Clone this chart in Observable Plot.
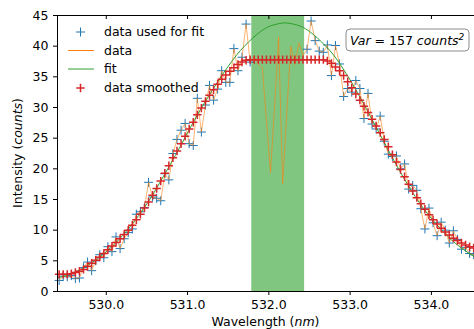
<!DOCTYPE html>
<html><head><meta charset="utf-8">
<script src="https://cdn.jsdelivr.net/npm/d3@7"></script>
<script src="https://cdn.jsdelivr.net/npm/@observablehq/plot@0.6"></script>
<style>
html,body{margin:0;padding:0;background:#fff;}
svg{display:block}
</style></head><body><div id="chart"></div>
<script>
const wavelength = [
529.42, 529.47, 529.52, 529.57, 529.62, 529.67, 529.72, 529.77, 529.82, 529.87,
529.92, 529.97, 530.02, 530.07, 530.12, 530.17, 530.22, 530.27, 530.32, 530.37,
530.42, 530.47, 530.52, 530.57, 530.62, 530.67, 530.72, 530.77, 530.82, 530.87,
530.92, 530.97, 531.02, 531.07, 531.12, 531.17, 531.22, 531.27, 531.32, 531.37,
531.42, 531.47, 531.52, 531.57, 531.62, 531.67, 531.72, 531.77, 531.82, 531.87,
531.92, 531.97, 532.02, 532.07, 532.12, 532.17, 532.22, 532.27, 532.32, 532.37,
532.42, 532.47, 532.52, 532.57, 532.62, 532.67, 532.72, 532.77, 532.82, 532.87,
532.92, 532.97, 533.02, 533.07, 533.12, 533.17, 533.22, 533.27, 533.32, 533.37,
533.42, 533.47, 533.52, 533.57, 533.62, 533.67, 533.72, 533.77, 533.82, 533.87,
533.92, 533.97, 534.02, 534.07, 534.12, 534.17, 534.22, 534.27, 534.32, 534.37,
534.42, 534.47, 534.52];
const intensity = [
1.8, 2.5, 2.4, 2.6, 2.1, 2.2, 3.9, 4.8, 3.4, 5.0,
6.0, 5.5, 7.3, 6.5, 8.9, 7.0, 8.6, 9.6, 10.2, 12.6,
13.0, 13.7, 17.8, 15.4, 15.2, 14.8, 19.2, 18.2, 22.5, 24.8,
26.3, 27.4, 24.1, 23.8, 31.5, 26.0, 30.4, 33.6, 31.2, 33.0,
36.0, 34.1, 34.1, 39.6, 36.0, 38.2, 43.6, 37.4, 38.3, 37.0,
36.5, 28.0, 19.4, 30.0, 41.5, 17.6, 29.0, 40.0, 37.0, 40.5,
38.5, 39.5, 44.1, 40.9, 39.2, 39.0, 40.2, 35.2, 40.1, 37.1,
31.8, 33.1, 32.5, 34.4, 33.1, 28.2, 32.3, 27.3, 26.5, 28.6,
24.5, 22.4, 22.0, 22.1, 20.0, 20.8, 16.7, 17.3, 16.5, 13.5,
10.2, 13.6, 11.2, 9.1, 11.3, 10.0, 7.9, 9.9, 8.5, 6.9,
7.2, 6.2, 6.0];
const smoothed = [
2.8, 2.8, 2.8, 2.9, 3.1, 3.3, 3.6, 4.1, 4.6, 5.1,
5.6, 6.2, 6.8, 7.4, 8.0, 8.6, 9.3, 10.0, 10.8, 11.7,
12.6, 13.6, 14.6, 15.7, 16.8, 18.0, 19.3, 20.5, 21.8, 22.9,
24.1, 25.3, 26.5, 27.6, 28.8, 29.9, 31.0, 32.0, 32.9, 33.8,
34.6, 35.3, 35.9, 36.5, 37.0, 37.4, 37.7, 37.8, 37.8, 37.8,
37.8, 37.8, 37.8, 37.8, 37.8, 37.8, 37.8, 37.8, 37.8, 37.8,
37.8, 37.8, 37.8, 37.8, 37.8, 37.8, 37.6, 37.2, 36.6, 36.0,
35.2, 34.2, 33.2, 32.2, 31.2, 30.2, 29.2, 28.1, 27.0, 25.9,
24.8, 23.6, 22.3, 21.1, 19.9, 18.7, 17.5, 16.4, 15.3, 14.3,
13.4, 12.5, 11.7, 11.0, 10.3, 9.7, 9.2, 8.7, 8.3, 7.9,
7.6, 7.3, 7.1];
const fitWavelength = [
529.4, 529.5, 529.6, 529.7, 529.8, 529.9, 530.0, 530.1, 530.2, 530.3,
530.4, 530.5, 530.6, 530.7, 530.8, 530.9, 531.0, 531.1, 531.2, 531.3,
531.4, 531.5, 531.6, 531.7, 531.8, 531.9, 532.0, 532.1, 532.2, 532.3,
532.4, 532.5, 532.6, 532.7, 532.8, 532.9, 533.0, 533.1, 533.2, 533.3,
533.4, 533.5, 533.6, 533.7, 533.8, 533.9, 534.0, 534.1, 534.2, 534.3,
534.4, 534.5, 534.6];
const fitIntensity = [
2.2, 2.6, 3.1, 3.7, 4.5, 5.4, 6.5, 7.7, 9.1, 10.7,
12.4, 14.3, 16.4, 18.7, 21.0, 23.4, 25.9, 28.3, 30.6, 32.7,
34.8, 36.7, 38.5, 40.0, 41.3, 42.4, 43.2, 43.6, 43.8, 43.6,
43.2, 42.4, 41.3, 40.0, 38.5, 36.6, 34.5, 32.2, 29.8, 27.3,
24.8, 22.3, 19.9, 17.6, 15.5, 13.6, 11.9, 10.4, 9.0, 7.8,
6.8, 5.9, 5.1];
const fitRange = [531.79, 532.44];
const xTicks = [530, 531, 532, 533, 534];
const yTicks = [0, 5, 10, 15, 20, 25, 30, 35, 40, 45];
const legendLabels = ["data used for fit", "data", "fit", "data smoothed"];

const rows = wavelength.map((w, i) => ({w, raw: intensity[i], smooth: smoothed[i]}));
const used = rows.filter(d => d.w < fitRange[0] || d.w > fitRange[1]);
const fitRows = fitWavelength.map((w, i) => ({w, y: fitIntensity[i]}));

const plusSymbol = {draw(ctx, size) {
  const r = Math.sqrt(size / Math.PI);
  ctx.moveTo(-r, 0); ctx.lineTo(r, 0);
  ctx.moveTo(0, -r); ctx.lineTo(0, r);
}};

const W = 474, H = 329, mL = 57, mT = 15, mB = 38, mR = 0;
const innerH = H - mT - mB;
const FONT = "DejaVu Sans";

const svg = Plot.plot({
  width: W, height: H,
  marginLeft: mL, marginRight: mR, marginTop: mT, marginBottom: mB,
  style: {fontFamily: FONT, fontSize: "12.5px", color: "#000", background: "#fff"},
  x: {domain: [529.40, 534.53]},
  y: {domain: [0, 45]},
  marks: [
    Plot.rect([fitRange], {x1: d => d[0], x2: d => d[1], fill: "#2ca02c", fillOpacity: 0.6}),
    Plot.dot(used, {x: "w", y: "raw", symbol: plusSymbol, r: 4.5, stroke: "#1f77b4", strokeWidth: 1, fill: "none"}),
    Plot.line(rows, {x: "w", y: "raw", stroke: "#ff7f0e", strokeWidth: 0.8, strokeOpacity: 0.75}),
    Plot.line(fitRows, {x: "w", y: "y", stroke: "#2ca02c", strokeWidth: 1, curve: "natural"}),
    Plot.dot(rows, {x: "w", y: "smooth", symbol: plusSymbol, r: 4.2, stroke: "#d62728", strokeWidth: 1.5, fill: "none"}),
    Plot.frame({anchor: "left", stroke: "#000"}),
    Plot.frame({anchor: "bottom", stroke: "#000"}),
    Plot.frame({anchor: "top", stroke: "#000"}),
    Plot.tickX(xTicks, {x: d => d, insetBottom: innerH - 4, stroke: "#000"}),
    Plot.axisX({ticks: xTicks, tickSize: 4, tickPadding: 5, label: null, tickFormat: d => d.toFixed(1)}),
    Plot.axisY({ticks: yTicks, tickSize: 4, tickPadding: 5, label: null, tickFormat: d => String(d)})
  ]
});
document.getElementById("chart").appendChild(svg);

const s = d3.select(svg);
// axis titles
const xl = s.append("text").attr("x", (mL + W - mR) / 2).attr("y", 325.5)
  .attr("text-anchor", "middle").attr("font-family", FONT).attr("font-size", "12.5px").attr("fill", "#000");
xl.append("tspan").text("Wavelength (");
xl.append("tspan").attr("font-style", "italic").text("nm");
xl.append("tspan").text(")");

const yl = s.append("text").attr("transform", `translate(22,${mT + innerH / 2}) rotate(-90)`)
  .attr("text-anchor", "middle").attr("font-family", FONT).attr("font-size", "12.5px").attr("fill", "#000");
yl.append("tspan").text("Intensity (");
yl.append("tspan").attr("font-style", "italic").text("counts");
yl.append("tspan").text(")");

// legend
const lg = s.append("g").attr("font-family", FONT).attr("font-size", "12.5px").attr("text-anchor", "start");
const rowY = [32, 50.5, 69, 88];
const mk = (g, x, y, r, color, w) => {
  g.append("path").attr("d", `M${x - r},${y}H${x + r}M${x},${y - r}V${y + r}`)
    .attr("stroke", color).attr("stroke-width", w).attr("fill", "none");
};
mk(lg, 80.5, rowY[0], 4.5, "#1f77b4", 1);
lg.append("line").attr("x1", 68).attr("x2", 94).attr("y1", rowY[1]).attr("y2", rowY[1]).attr("stroke", "#ff7f0e").attr("stroke-width", 1);
lg.append("line").attr("x1", 68).attr("x2", 94).attr("y1", rowY[2]).attr("y2", rowY[2]).attr("stroke", "#2ca02c").attr("stroke-width", 1);
mk(lg, 80.5, rowY[3], 4.2, "#d62728", 1.5);
legendLabels.forEach((t, i) => {
  lg.append("text").attr("x", 104).attr("y", rowY[i]).attr("dy", "0.33em")
    .attr("text-anchor", "start").attr("fill", "#000").text(t);
});

// variance box
const vb = s.append("g").attr("font-family", FONT).attr("font-size", "12.5px").attr("text-anchor", "start");
vb.append("rect").attr("x", 346).attr("y", 29).attr("width", 123).attr("height", 22).attr("rx", 4)
  .attr("fill", "#fff").attr("stroke", "#8c8c8c").attr("stroke-width", 1);
const vt = vb.append("text").attr("x", 350).attr("y", 44.5).attr("text-anchor", "start").attr("fill", "#000");
vt.append("tspan").attr("font-style", "italic").text("Var");
vt.append("tspan").text(" = 157 ");
vt.append("tspan").attr("font-style", "italic").text("counts");
vt.append("tspan").attr("font-style", "italic").attr("font-size", "9px").attr("dy", "-5").text("2");
</script></body></html>
